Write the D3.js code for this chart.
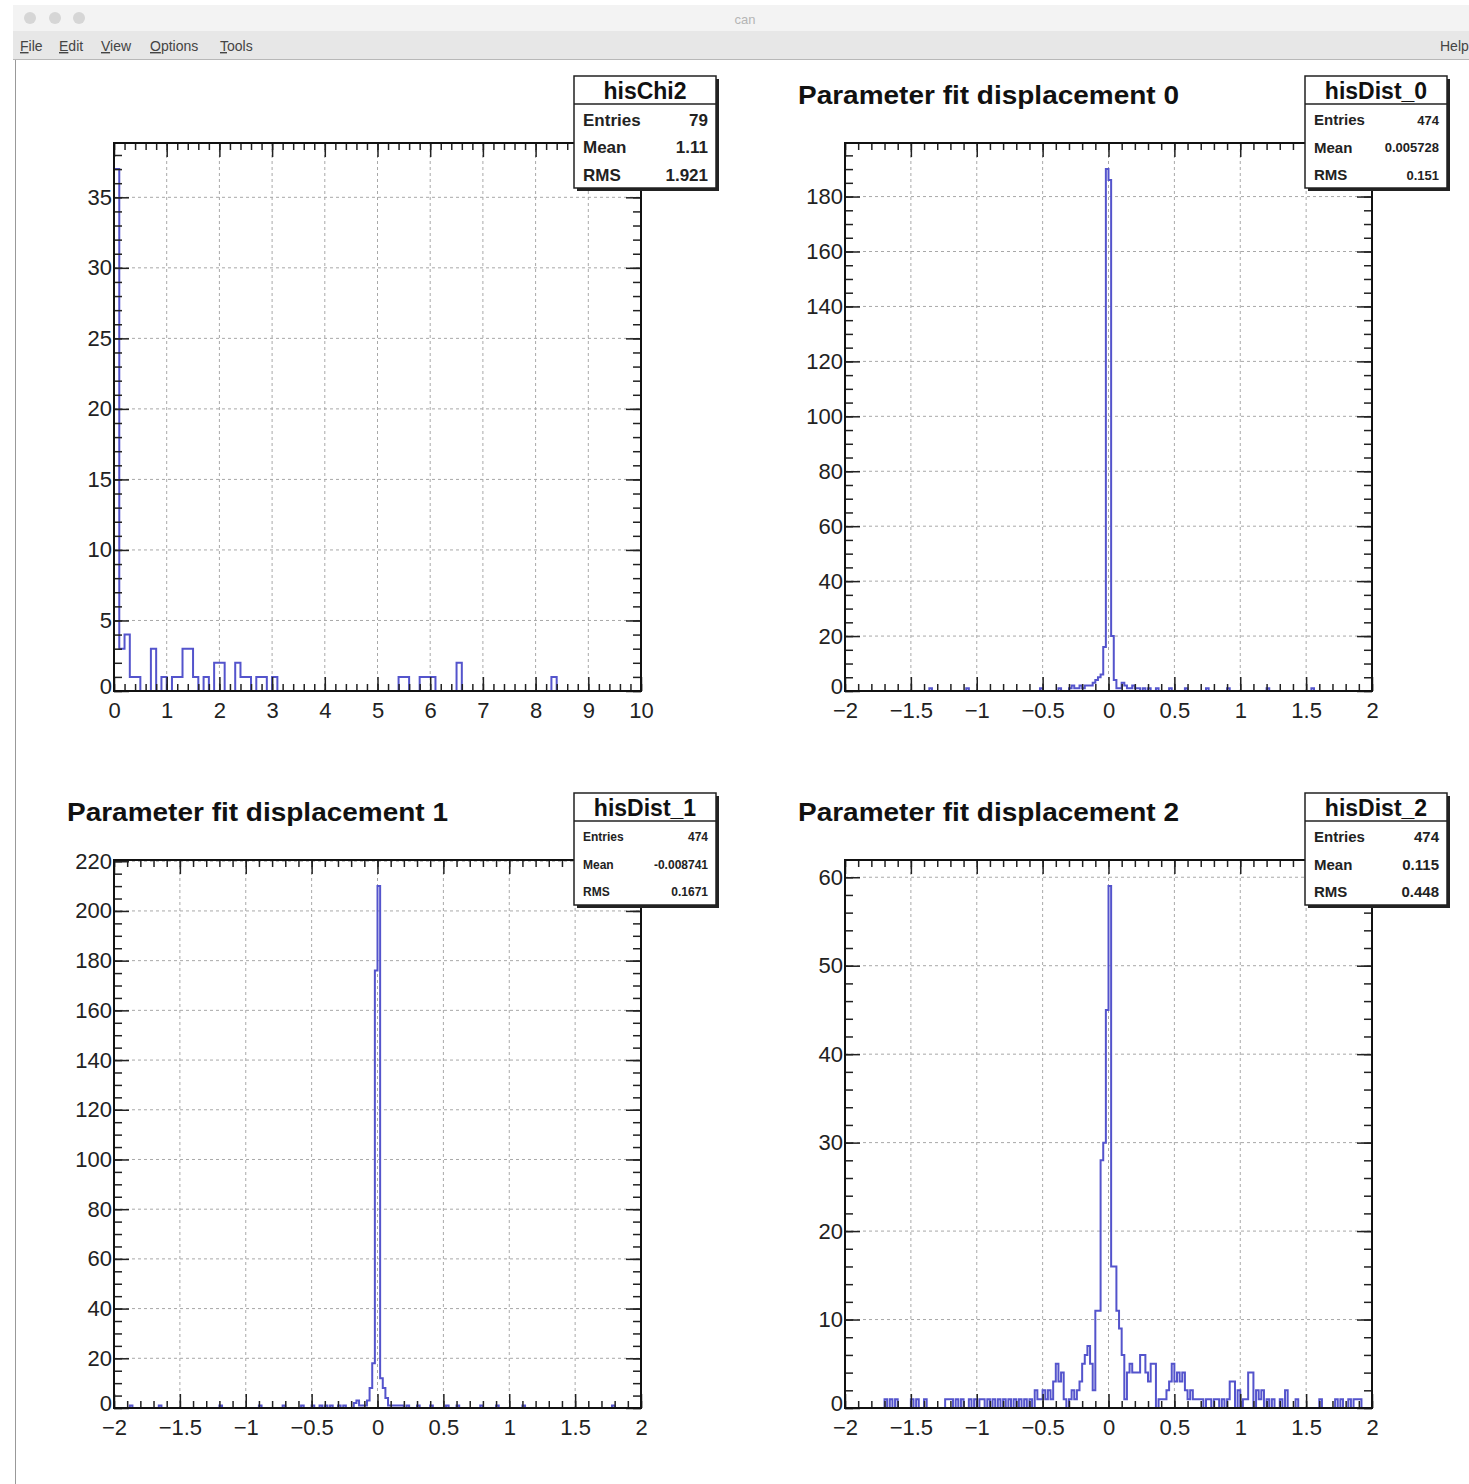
<!DOCTYPE html>
<html>
<head>
<meta charset="utf-8">
<script src="https://cdn.jsdelivr.net/npm/d3@7"></script>
<style>
body { margin: 0; background: #fff; }
svg { display: block; font-family: "Liberation Sans", Arial, sans-serif; }
</style>
</head>
<body>
<div id="chart-container"></div>
<script>
// histogram contents: low edge of each non-empty bin and its count
const chi2Edges = [0, 0.1, 0.2, 0.3, 0.4, 0.7, 0.9, 1.1, 1.2, 1.3, 1.4, 1.5, 1.7, 1.9, 2.0, 2.3, 2.4, 2.5, 2.7, 2.8, 3.0, 5.4, 5.5, 5.8, 5.9, 6.0, 6.5, 8.3];
const chi2Counts = [37, 3, 4, 1, 1, 3, 1, 1, 1, 3, 3, 1, 1, 2, 2, 2, 1, 1, 1, 1, 1, 1, 1, 1, 1, 1, 2, 1];

const dist0Edges = [-1.36, -1.08, -0.52, -0.38, -0.30, -0.28, -0.26, -0.24, -0.22, -0.20, -0.18, -0.16, -0.14, -0.12, -0.10, -0.08, -0.06, -0.04, -0.02,
    0.00, 0.02, 0.04, 0.06, 0.08, 0.10, 0.12, 0.14, 0.16, 0.18, 0.20, 0.22, 0.26, 0.30, 0.36, 0.46, 0.58, 0.74, 0.90, 1.20, 1.54];
const dist0Counts = [1, 1, 1, 1, 1, 2, 1, 1, 2, 1, 2, 2, 2, 3, 4, 5, 6, 16, 190,
    186, 20, 4, 1, 1, 3, 2, 1, 1, 2, 1, 1, 1, 1, 1, 1, 1, 1, 1, 1, 1];

const dist1Edges = [-1.88, -1.66, -1.20, -0.90, -0.72, -0.58, -0.50, -0.44, -0.40, -0.36, -0.30, -0.26, -0.18, -0.16, -0.14, -0.12, -0.10, -0.08, -0.06, -0.04, -0.02,
    0.00, 0.02, 0.04, 0.06, 0.08, 0.10, 0.12, 0.14, 0.16, 0.18, 0.22, 0.30, 0.40, 0.52, 0.60, 0.78, 0.90, 1.10, 1.78];
const dist1Counts = [1, 1, 1, 1, 1, 1, 1, 1, 1, 1, 1, 1, 2, 3, 1, 1, 1, 3, 8, 18, 176,
    210, 12, 8, 4, 1, 1, 1, 1, 1, 1, 1, 1, 1, 1, 1, 1, 1, 1, 1];

const dist2Edges = [-1.70, -1.66, -1.62, -1.50, -1.46, -1.40, -1.24, -1.22, -1.20, -1.16, -1.12, -1.06, -1.02, -0.98, -0.96, -0.92, -0.88, -0.84, -0.80, -0.76, -0.72, -0.68, -0.64, -0.60,
    -0.56, -0.54, -0.52, -0.50, -0.48, -0.46, -0.44, -0.42, -0.40, -0.38, -0.36, -0.34, -0.30, -0.28, -0.26, -0.24, -0.22, -0.20, -0.18, -0.16, -0.14, -0.12, -0.10, -0.08, -0.06, -0.04, -0.02,
    0.00, 0.02, 0.04, 0.06, 0.08, 0.10, 0.12, 0.14, 0.16, 0.18, 0.20, 0.22, 0.24, 0.26, 0.28, 0.30, 0.32, 0.34, 0.38, 0.40, 0.42, 0.44, 0.46, 0.48, 0.50, 0.52, 0.54, 0.56, 0.58, 0.60,
    0.62, 0.64, 0.66, 0.68, 0.70, 0.74, 0.76, 0.80, 0.82, 0.86, 0.90, 0.92, 0.94, 0.98, 1.02, 1.04, 1.06, 1.08, 1.12, 1.14, 1.16, 1.20, 1.24, 1.30, 1.34, 1.42, 1.60, 1.72, 1.76, 1.82, 1.86, 1.88, 1.90];
const dist2Counts = [1, 1, 1, 1, 1, 1, 1, 1, 1, 1, 1, 1, 1, 1, 1, 1, 1, 1, 1, 1, 1, 1, 1, 1,
    2, 1, 1, 2, 1, 2, 1, 3, 5, 3, 4, 1, 1, 2, 1, 2, 3, 5, 6, 7, 5, 2, 11, 11, 28, 30, 45,
    59, 16, 16, 11, 9, 6, 1, 4, 5, 4, 4, 4, 6, 6, 4, 3, 5, 5, 1, 1, 1, 2, 3, 5, 3, 4, 3, 4, 2, 1,
    2, 1, 1, 1, 1, 1, 1, 1, 1, 1, 1, 3, 3, 2, 1, 1, 4, 4, 2, 1, 2, 1, 1, 1, 2, 1, 1, 1, 1, 1, 1, 1, 1];

const histNames = ["hisChi2", "hisDist_0", "hisDist_1", "hisDist_2"];
const padTitles = ["", "Parameter fit displacement 0", "Parameter fit displacement 1", "Parameter fit displacement 2"];
const statEntries = ["79", "474", "474", "474"];
const statMeans = ["1.11", "0.005728", "-0.008741", "0.115"];
const statRms = ["1.921", "0.151", "0.1671", "0.448"];

const menuItems = ["File", "Edit", "View", "Options", "Tools"];

const W = 1469, H = 1484;
const fr = { left: 99, top: 81, width: 527, height: 548 };
const lineColor = "#5454cc";

function fullBins(edges, counts, xmin, binW, nbins) {
    const bins = new Array(nbins).fill(0);
    edges.forEach((e, i) => {
        const k = Math.round((e - xmin) / binW);
        if (k >= 0 && k < nbins) bins[k] += counts[i];
    });
    return bins;
}

const pads = [
    { x0: 15, y0: 62, xDom: [0, 10], nb: 100, edges: chi2Edges, counts: chi2Counts,
      xMajor: 1, xMinor: 0.2, yMajor: 5, yMinor: 1, statFont: 17, statValFont: 17 },
    { x0: 746, y0: 62, xDom: [-2, 2], nb: 200, edges: dist0Edges, counts: dist0Counts,
      xMajor: 0.5, xMinor: 0.1, yMajor: 20, yMinor: 5, statFont: 15, statValFont: 13 },
    { x0: 15, y0: 779, xDom: [-2, 2], nb: 200, edges: dist1Edges, counts: dist1Counts,
      xMajor: 0.5, xMinor: 0.1, yMajor: 20, yMinor: 5, statFont: 12, statValFont: 12 },
    { x0: 746, y0: 779, xDom: [-2, 2], nb: 200, edges: dist2Edges, counts: dist2Counts,
      xMajor: 0.5, xMinor: 0.1, yMajor: 10, yMinor: 2, statFont: 15, statValFont: 15 }
];

const svg = d3.select("#chart-container").append("svg")
    .attr("width", W).attr("height", H);

svg.append("rect").attr("width", W).attr("height", H).attr("fill", "#fff");

// window chrome
svg.append("rect").attr("x", 13).attr("y", 5).attr("width", W - 13).attr("height", 26).attr("fill", "#f3f3f3");
svg.append("rect").attr("x", 13).attr("y", 31).attr("width", W - 13).attr("height", 28).attr("fill", "#e7e7e7");
svg.append("line").attr("x1", 13).attr("x2", W).attr("y1", 59.5).attr("y2", 59.5).attr("stroke", "#b8b8b8");
[30, 55, 79].forEach(cx => {
    svg.append("circle").attr("cx", cx).attr("cy", 18).attr("r", 6).attr("fill", "#d6d6d6");
});
svg.append("text").attr("x", 745).attr("y", 24).attr("text-anchor", "middle")
    .attr("font-size", 13).attr("fill", "#b5b5b5").text("can");
const menuX = [20, 59, 101, 150, 220];
menuItems.forEach((m, i) => {
    const t = svg.append("text").attr("x", menuX[i]).attr("y", 51)
        .attr("font-size", 14).attr("fill", "#444");
    t.append("tspan").attr("text-decoration", "underline").text(m[0]);
    t.append("tspan").text(m.slice(1));
});
svg.append("text").attr("x", 1440).attr("y", 51).attr("font-size", 14).attr("fill", "#444").text("Help");
svg.append("line").attr("x1", 15.5).attr("x2", 15.5).attr("y1", 60).attr("y2", H).attr("stroke", "#999");

const fmt = d3.format("~g");

pads.forEach((p, idx) => {
    const g = svg.append("g").attr("transform", `translate(${p.x0},${p.y0})`);
    const binW = (p.xDom[1] - p.xDom[0]) / p.nb;
    const bins = fullBins(p.edges, p.counts, p.xDom[0], binW, p.nb);
    const ymax = d3.max(bins) * 1.05;

    const x = d3.scaleLinear().domain(p.xDom).range([fr.left, fr.left + fr.width]);
    const y = d3.scaleLinear().domain([0, ymax]).range([fr.top + fr.height, fr.top]);

    const xMaj = d3.range(p.xDom[0], p.xDom[1] + 1e-9, p.xMajor).map(v => +v.toFixed(4));
    const xMin = d3.range(p.xDom[0], p.xDom[1] + 1e-9, p.xMinor).map(v => +v.toFixed(4));
    const yMaj = d3.range(0, ymax, p.yMajor);
    const yMin = d3.range(0, ymax, p.yMinor);

    // grid
    g.append("g").selectAll("line").data(xMaj.slice(1, -1)).join("line")
        .attr("x1", d => x(d)).attr("x2", d => x(d))
        .attr("y1", fr.top).attr("y2", fr.top + fr.height)
        .attr("stroke", "#a8a8a8").attr("stroke-dasharray", "3,3");
    g.append("g").selectAll("line").data(yMaj.slice(1)).join("line")
        .attr("x1", fr.left).attr("x2", fr.left + fr.width)
        .attr("y1", d => y(d)).attr("y2", d => y(d))
        .attr("stroke", "#a8a8a8").attr("stroke-dasharray", "3,3");

    // histogram outline
    const pts = [[p.xDom[0], 0]];
    bins.forEach((c, i) => {
        const lo = p.xDom[0] + i * binW;
        pts.push([lo, c], [lo + binW, c]);
    });
    const clipId = "clip" + idx;
    g.append("clipPath").attr("id", clipId).append("rect")
        .attr("x", fr.left).attr("y", fr.top).attr("width", fr.width).attr("height", fr.height);
    g.append("path").datum(pts)
        .attr("clip-path", `url(#${clipId})`)
        .attr("fill", "none").attr("stroke", lineColor).attr("stroke-width", 2)
        .attr("d", d3.line().x(d => x(d[0])).y(d => y(d[1])));

    // axes, ticks drawn inward on all four sides
    const styleAxis = sel => {
        sel.select(".domain").remove();
        sel.selectAll(".tick line").attr("stroke", "#222").attr("stroke-width", 1.5);
        sel.selectAll("text").attr("font-size", 22).attr("fill", "#222")
            .attr("font-family", "Liberation Sans, Arial, sans-serif");
    };
    const bottom = fr.top + fr.height, right = fr.left + fr.width;
    g.append("g").attr("transform", `translate(0,${bottom})`)
        .call(d3.axisBottom(x).tickValues(xMin).tickSize(-7).tickFormat("")).call(styleAxis);
    g.append("g").attr("transform", `translate(0,${bottom})`)
        .call(d3.axisBottom(x).tickValues(xMaj).tickSize(-14).tickPadding(11).tickFormat(fmt)).call(styleAxis);
    g.append("g").attr("transform", `translate(0,${fr.top})`)
        .call(d3.axisTop(x).tickValues(xMin).tickSize(-7).tickFormat("")).call(styleAxis);
    g.append("g").attr("transform", `translate(0,${fr.top})`)
        .call(d3.axisTop(x).tickValues(xMaj).tickSize(-14).tickFormat("")).call(styleAxis);
    g.append("g").attr("transform", `translate(${fr.left},0)`)
        .call(d3.axisLeft(y).tickValues(yMin).tickSize(-8).tickFormat("")).call(styleAxis);
    g.append("g").attr("transform", `translate(${fr.left},0)`)
        .call(d3.axisLeft(y).tickValues(yMaj).tickSize(-15).tickPadding(2).tickFormat(fmt)).call(styleAxis)
        .selectAll("text").filter(d => d === 0).attr("dy", "0.12em");
    g.append("g").attr("transform", `translate(${right},0)`)
        .call(d3.axisRight(y).tickValues(yMin).tickSize(-8).tickFormat("")).call(styleAxis);
    g.append("g").attr("transform", `translate(${right},0)`)
        .call(d3.axisRight(y).tickValues(yMaj).tickSize(-15).tickFormat("")).call(styleAxis);

    // frame
    g.append("rect").attr("x", fr.left).attr("y", fr.top)
        .attr("width", fr.width).attr("height", fr.height)
        .attr("fill", "none").attr("stroke", "#111").attr("stroke-width", 2);

    // title
    if (padTitles[idx]) {
        g.append("text").attr("x", 52).attr("y", 42)
            .attr("font-size", 25).attr("font-weight", "bold").attr("fill", "#111")
            .attr("textLength", 381).attr("lengthAdjust", "spacingAndGlyphs")
            .text(padTitles[idx]);
    }

    // stats box
    const bx = 559, by = 14, bw = 142, bh = 112;
    g.append("rect").attr("x", bx + 3).attr("y", by + 3).attr("width", bw).attr("height", bh).attr("fill", "#222");
    g.append("rect").attr("x", bx).attr("y", by).attr("width", bw).attr("height", bh)
        .attr("fill", "#fff").attr("stroke", "#222").attr("stroke-width", 1.5);
    g.append("line").attr("x1", bx).attr("x2", bx + bw).attr("y1", by + 28).attr("y2", by + 28)
        .attr("stroke", "#222").attr("stroke-width", 1.5);
    g.append("text").attr("x", bx + bw / 2).attr("y", by + 23).attr("text-anchor", "middle")
        .attr("font-size", 23).attr("font-weight", "bold").attr("fill", "#111").text(histNames[idx]);
    const rows = [["Entries", statEntries[idx]], ["Mean", statMeans[idx]], ["RMS", statRms[idx]]];
    rows.forEach((r, i) => {
        const cy = by + 44 + i * 27.5;
        g.append("text").attr("x", bx + 9).attr("y", cy).attr("dy", "0.35em")
            .attr("font-size", p.statFont).attr("font-weight", "bold").attr("fill", "#222").text(r[0]);
        g.append("text").attr("x", bx + bw - 8).attr("y", cy).attr("dy", "0.35em").attr("text-anchor", "end")
            .attr("font-size", p.statValFont).attr("font-weight", "bold").attr("fill", "#222").text(r[1]);
    });
});
</script>
</body>
</html>
